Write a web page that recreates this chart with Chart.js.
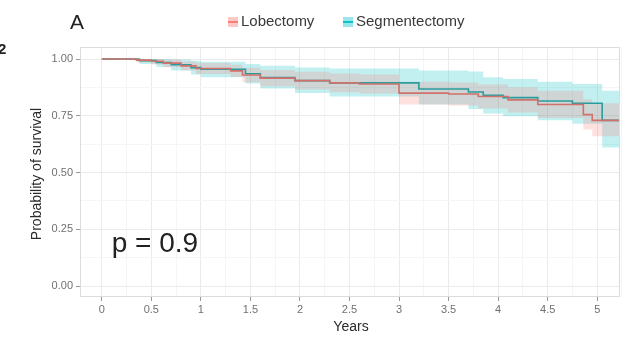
<!DOCTYPE html>
<html>
<head>
<meta charset="utf-8">
<title>Survival by surgery type</title>
<script src="https://cdn.jsdelivr.net/npm/chart.js@4.4.1/dist/chart.umd.min.js"></script>
<style>
    html, body { margin: 0; padding: 0; background: #fff; }
    #wrap { width: 628px; height: 340px; }
</style>
</head>
<body>
<div id="wrap"><canvas id="survivalChart" width="628" height="340"></canvas></div>
<script>
// Kaplan-Meier estimates (step curves) with 95% confidence bands
const lobeYears = [0, 0.35, 0.5, 0.62, 0.8, 0.95, 1.3, 1.42, 1.6, 1.95, 2.3, 2.6, 3.0, 3.5, 3.8, 4.1, 4.4, 4.86, 4.95, 5.22];
const lobeSurv  = [1, 0.995, 0.99, 0.982, 0.97, 0.958, 0.948, 0.93, 0.916, 0.905, 0.895, 0.89, 0.85, 0.846, 0.835, 0.82, 0.80, 0.755, 0.73, 0.73];
const lobeUpper = [1, 1, 1, 0.998, 0.99, 0.982, 0.975, 0.962, 0.952, 0.944, 0.936, 0.932, 0.90, 0.897, 0.888, 0.876, 0.86, 0.823, 0.805, 0.805];
const lobeLower = [1, 0.985, 0.976, 0.964, 0.949, 0.934, 0.921, 0.898, 0.88, 0.866, 0.854, 0.848, 0.80, 0.795, 0.782, 0.764, 0.74, 0.69, 0.66, 0.66];

const segYears = [0, 0.38, 0.55, 0.7, 0.9, 1.0, 1.45, 1.6, 1.95, 2.3, 3.2, 3.7, 3.85, 4.05, 4.4, 4.75, 5.05, 5.22];
const segSurv  = [1, 0.993, 0.985, 0.975, 0.962, 0.955, 0.935, 0.918, 0.905, 0.895, 0.868, 0.855, 0.84, 0.83, 0.815, 0.805, 0.73, 0.73];
const segUpper = [1, 1, 1, 0.998, 0.992, 0.988, 0.978, 0.97, 0.963, 0.958, 0.95, 0.945, 0.92, 0.912, 0.90, 0.89, 0.86, 0.86];
const segLower = [1, 0.978, 0.965, 0.95, 0.932, 0.92, 0.892, 0.87, 0.85, 0.835, 0.80, 0.78, 0.76, 0.748, 0.73, 0.715, 0.61, 0.61];

const groupNames = ['Lobectomy', 'Segmentectomy'];
const xTickValues = [0, 0.5, 1, 1.5, 2, 2.5, 3, 3.5, 4, 4.5, 5];
const yTickValues = [0, 0.25, 0.5, 0.75, 1];
const pValueText = 'p = 0.9';

const RED = '#F8766D';
const TEAL = '#00BFC4';
const FONT = '"Liberation Sans", Arial, sans-serif';

function toPoints(xs, ys) {
    return xs.map((x, i) => ({ x: x, y: ys[i] }));
}

// add minor ticks halfway between the labelled ones
function withMinor(values) {
    const out = [];
    values.forEach((v, i) => {
        out.push({ value: v, major: true });
        const step = i < values.length - 1 ? values[i + 1] - v : v - values[i - 1];
        out.push({ value: v + step / 2, major: false });
    });
    return out;
}

function isMajor(ctx) {
    return ctx.tick && ctx.tick.major;
}

const decorPlugin = {
    id: 'decor',
    beforeDatasetsDraw(chart) {
        const { ctx, chartArea } = chart;
        ctx.save();
        ctx.strokeStyle = '#dcdcdc';
        ctx.lineWidth = 1;
        ctx.strokeRect(chartArea.left + 0.5, chartArea.top + 0.5,
            chartArea.right - chartArea.left - 1, chartArea.bottom - chartArea.top - 1);
        ctx.restore();
    },
    afterDraw(chart) {
        const { ctx, scales } = chart;
        ctx.save();
        ctx.fillStyle = '#222';
        ctx.textBaseline = 'middle';

        // panel letter
        ctx.font = '21px ' + FONT;
        ctx.textAlign = 'left';
        ctx.fillText('A', 70, 23);

        // stray figure label at the left edge
        ctx.font = 'bold 15px ' + FONT;
        ctx.fillText('2', -2, 50);

        // legend
        ctx.font = '15px ' + FONT;
        const items = [
            { label: groupNames[0], color: RED, x: 228 },
            { label: groupNames[1], color: TEAL, x: 343 }
        ];
        items.forEach(item => {
            ctx.fillStyle = item.color;
            ctx.globalAlpha = 0.4;
            ctx.fillRect(item.x, 17, 10, 10);
            ctx.globalAlpha = 0.9;
            ctx.fillRect(item.x, 21, 10, 2);
            ctx.globalAlpha = 1;
            ctx.fillStyle = '#3a3a3a';
            ctx.fillText(item.label, item.x + 13, 22);
        });

        // axis titles
        ctx.font = '14px ' + FONT;
        ctx.fillStyle = '#2a2a2a';
        ctx.textAlign = 'center';
        ctx.fillText('Years', 351, 327);
        ctx.save();
        ctx.translate(37, 174);
        ctx.rotate(-Math.PI / 2);
        ctx.fillText('Probability of survival', 0, 0);
        ctx.restore();

        // log-rank p value
        ctx.font = '28px ' + FONT;
        ctx.textAlign = 'left';
        ctx.textBaseline = 'alphabetic';
        ctx.fillStyle = '#222';
        ctx.fillText(pValueText, scales.x.getPixelForValue(0.1), scales.y.getPixelForValue(0.15));
        ctx.restore();
    }
};

function curve(label, xs, ys, color) {
    return {
        label: label,
        data: toPoints(xs, ys),
        borderColor: color,
        borderWidth: 1.6,
        stepped: 'before',
        pointRadius: 0,
        fill: false
    };
}

function band(xs, ys, color, fill) {
    return {
        data: toPoints(xs, ys),
        borderWidth: 0,
        borderColor: 'rgba(0,0,0,0)',
        backgroundColor: color,
        stepped: 'before',
        pointRadius: 0,
        fill: fill
    };
}

new Chart(document.getElementById('survivalChart'), {
    type: 'line',
    data: {
        datasets: [
            curve(groupNames[0], lobeYears, lobeSurv, '#d0716b'),
            curve(groupNames[1], segYears, segSurv, '#2b9c9d'),
            band(lobeYears, lobeUpper, 'rgba(248, 118, 109, 0.22)', '+1'),
            band(lobeYears, lobeLower, 'rgba(248, 118, 109, 0.22)', false),
            band(segYears, segUpper, 'rgba(0, 191, 196, 0.24)', '+1'),
            band(segYears, segLower, 'rgba(0, 191, 196, 0.24)', false)
        ]
    },
    options: {
        responsive: false,
        animation: false,
        devicePixelRatio: 1,
        layout: { padding: { left: 0, right: 8, top: 47, bottom: 0 } },
        plugins: {
            legend: { display: false },
            tooltip: { enabled: false }
        },
        scales: {
            x: {
                type: 'linear',
                min: -0.22,
                max: 5.23,
                afterBuildTicks: scale => { scale.ticks = withMinor(xTickValues); },
                afterFit: scale => { scale.height = 43; },
                border: { display: false },
                grid: {
                    color: ctx => isMajor(ctx) ? '#ebebeb' : '#f5f5f5',
                    tickColor: ctx => isMajor(ctx) ? '#999' : 'rgba(0,0,0,0)',
                    tickLength: 4
                },
                ticks: {
                    padding: 2,
                    color: '#707070',
                    font: { family: FONT, size: 11 },
                    maxRotation: 0,
                    autoSkip: false,
                    callback: function(value, index, ticks) {
                        return ticks[index].major ? String(value) : '';
                    }
                }
            },
            y: {
                type: 'linear',
                min: -0.048,
                max: 1.053,
                afterBuildTicks: scale => { scale.ticks = withMinor(yTickValues).filter(t => t.value <= 1); },
                afterFit: scale => { scale.width = 80; },
                border: { display: false },
                grid: {
                    color: ctx => isMajor(ctx) ? '#ebebeb' : '#f5f5f5',
                    tickColor: ctx => isMajor(ctx) ? '#999' : 'rgba(0,0,0,0)',
                    tickLength: 4
                },
                ticks: {
                    padding: 3,
                    color: '#707070',
                    font: { family: FONT, size: 11 },
                    autoSkip: false,
                    callback: function(value, index, ticks) {
                        return ticks[index].major ? value.toFixed(2) : '';
                    }
                }
            }
        }
    },
    plugins: [decorPlugin]
});
</script>
</body>
</html>
